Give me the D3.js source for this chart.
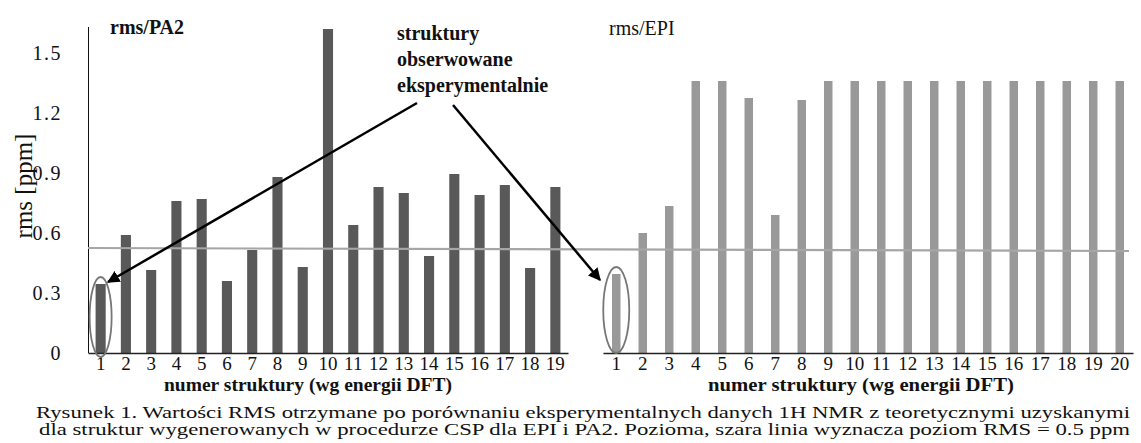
<!DOCTYPE html>
<html>
<head>
<meta charset="utf-8">
<script src="https://cdn.jsdelivr.net/npm/d3@7"></script>
<style>
body { margin: 0; background: #fff; }
svg { display: block; }
</style>
</head>
<body>
<svg width="1141" height="443"></svg>
<script>
// data
var pa2Labels = d3.range(1, 20).map(String);
var pa2Values = [0.345, 0.59, 0.415, 0.76, 0.77, 0.36, 0.515, 0.88, 0.43, 1.62,
                 0.64, 0.83, 0.80, 0.485, 0.895, 0.79, 0.84, 0.425, 0.83];
var epiLabels = d3.range(1, 21).map(String);
var epiValues = [0.395, 0.60, 0.735, 1.36, 1.36, 1.275, 0.69, 1.265, 1.36, 1.36,
                 1.36, 1.36, 1.36, 1.36, 1.36, 1.36, 1.36, 1.36, 1.36, 1.36];
var yTicks = [0, 0.3, 0.6, 0.9, 1.2, 1.5];
var thresholdLevel = [0.525, 0.51]; // grey line, start and end

var serif = "'Liberation Serif', 'Times New Roman', serif";
var svg = d3.select('svg');

var y = d3.scaleLinear().domain([0, 1.5]).range([353, 53]);
var xL = d3.scaleBand().domain(pa2Labels).range([88, 568]).paddingInner(0.6).paddingOuter(0.3);
var xR = d3.scaleBand().domain(epiLabels).range([603, 1133]).paddingInner(0.68).paddingOuter(0.34);

// y axis (left chart)
var yAxis = svg.append('g')
    .attr('transform', 'translate(88,0)')
    .call(d3.axisLeft(y).tickValues(yTicks).tickSize(0).tickPadding(26)
        .tickFormat(function(d){ return d === 0 ? '0' : d3.format('.1f')(d); }));
yAxis.select('.domain').remove();
yAxis.attr('font-family', serif);
yAxis.selectAll('text').style('font-family', serif).attr('font-size', 20)
    .attr('fill', '#111').attr('letter-spacing', 1.5);

svg.append('line').attr('x1', 88.5).attr('x2', 88.5).attr('y1', 27).attr('y2', 353)
    .attr('stroke', '#111').attr('stroke-width', 1);

svg.append('text')
    .attr('transform', 'translate(32,186) rotate(-90)')
    .attr('text-anchor', 'middle')
    .style('font-family', serif)
    .attr('font-size', 25)
    .attr('fill', '#111')
    .text('rms [ppm]');

// bars
svg.append('g').selectAll('rect')
    .data(pa2Values)
    .enter()
    .append('rect')
    .attr('x', function(d, i){ return xL(pa2Labels[i]); })
    .attr('width', xL.bandwidth())
    .attr('y', function(d){ return y(d); })
    .attr('height', function(d){ return y(0) - y(d); })
    .attr('fill', '#595959');

svg.append('g').selectAll('rect')
    .data(epiValues)
    .enter()
    .append('rect')
    .attr('x', function(d, i){ return xR(epiLabels[i]); })
    .attr('width', xR.bandwidth())
    .attr('y', function(d){ return y(d); })
    .attr('height', function(d){ return y(0) - y(d); })
    .attr('fill', '#999999');

// x axes
function bottomAxis(scale) {
    var g = svg.append('g')
        .attr('transform', 'translate(0,353)')
        .call(d3.axisBottom(scale).tickSize(0).tickPadding(4));
    g.attr('font-family', serif);
    g.select('.domain').attr('stroke', '#222').attr('stroke-width', 1.5);
    g.selectAll('text').style('font-family', serif).attr('font-size', 19).attr('fill', '#111');
    return g;
}
bottomAxis(xL);
bottomAxis(xR);

svg.append('text').attr('x', 308).attr('y', 391).attr('text-anchor', 'middle')
    .style('font-family', serif).attr('font-size', 19).attr('font-weight', 'bold').attr('fill', '#111')
    .attr('textLength', 288).attr('lengthAdjust', 'spacingAndGlyphs')
    .text('numer struktury (wg energii DFT)');
svg.append('text').attr('x', 861).attr('y', 391).attr('text-anchor', 'middle')
    .style('font-family', serif).attr('font-size', 19).attr('font-weight', 'bold').attr('fill', '#111')
    .attr('textLength', 306).attr('lengthAdjust', 'spacingAndGlyphs')
    .text('numer struktury (wg energii DFT)');

// threshold line
svg.append('line')
    .attr('x1', 88).attr('x2', 1129)
    .attr('y1', y(thresholdLevel[0])).attr('y2', y(thresholdLevel[1]))
    .attr('stroke', '#a6a6a6').attr('stroke-width', 2.2);

// titles
svg.append('text').attr('x', 110).attr('y', 34).style('font-family', serif).attr('font-size', 20)
    .attr('font-weight', 'bold').attr('fill', '#111').text('rms/PA2');
svg.append('text').attr('x', 609).attr('y', 35).style('font-family', serif).attr('font-size', 20)
    .attr('fill', '#111').text('rms/EPI');

// annotation
var note = svg.append('text').style('font-family', serif).attr('font-size', 20)
    .attr('font-weight', 'bold').attr('fill', '#111');
['struktury', 'obserwowane', 'eksperymentalnie'].forEach(function(t, i){
    note.append('tspan').attr('x', 397).attr('y', 40 + i * 26).text(t);
});

svg.append('defs').append('marker')
    .attr('id', 'arrow').attr('viewBox', '0 0 10 10').attr('refX', 9).attr('refY', 5)
    .attr('markerWidth', 5).attr('markerHeight', 5).attr('orient', 'auto')
    .append('path').attr('d', 'M0,0 L10,5 L0,10 z').attr('fill', '#000');

svg.append('line').attr('x1', 417).attr('y1', 103).attr('x2', 108).attr('y2', 282)
    .attr('stroke', '#000').attr('stroke-width', 2.5).attr('marker-end', 'url(#arrow)');
svg.append('line').attr('x1', 453).attr('y1', 105).attr('x2', 600).attr('y2', 280)
    .attr('stroke', '#000').attr('stroke-width', 2.5).attr('marker-end', 'url(#arrow)');

// ellipses round structure 1
svg.append('ellipse')
    .attr('cx', xL('1') + xL.bandwidth() / 2).attr('cy', 317).attr('rx', 11).attr('ry', 40)
    .attr('fill', 'none').attr('stroke', '#777').attr('stroke-width', 1.8);
svg.append('ellipse')
    .attr('cx', xR('1') + xR.bandwidth() / 2).attr('cy', 310).attr('rx', 13).attr('ry', 43)
    .attr('fill', 'none').attr('stroke', '#777').attr('stroke-width', 1.8);

// caption
svg.append('text').attr('x', 36).attr('y', 418).style('font-family', serif).attr('font-size', 16.5)
    .attr('fill', '#111').attr('textLength', 1094).attr('lengthAdjust', 'spacingAndGlyphs')
    .text('Rysunek 1. Wartości RMS otrzymane po porównaniu eksperymentalnych danych 1H NMR z teoretycznymi uzyskanymi');
svg.append('text').attr('x', 39).attr('y', 435).style('font-family', serif).attr('font-size', 16.5)
    .attr('fill', '#111').attr('textLength', 1091).attr('lengthAdjust', 'spacingAndGlyphs')
    .text('dla struktur wygenerowanych w procedurze CSP dla EPI i PA2.  Pozioma, szara linia wyznacza poziom RMS = 0.5 ppm');
</script>
</body>
</html>
